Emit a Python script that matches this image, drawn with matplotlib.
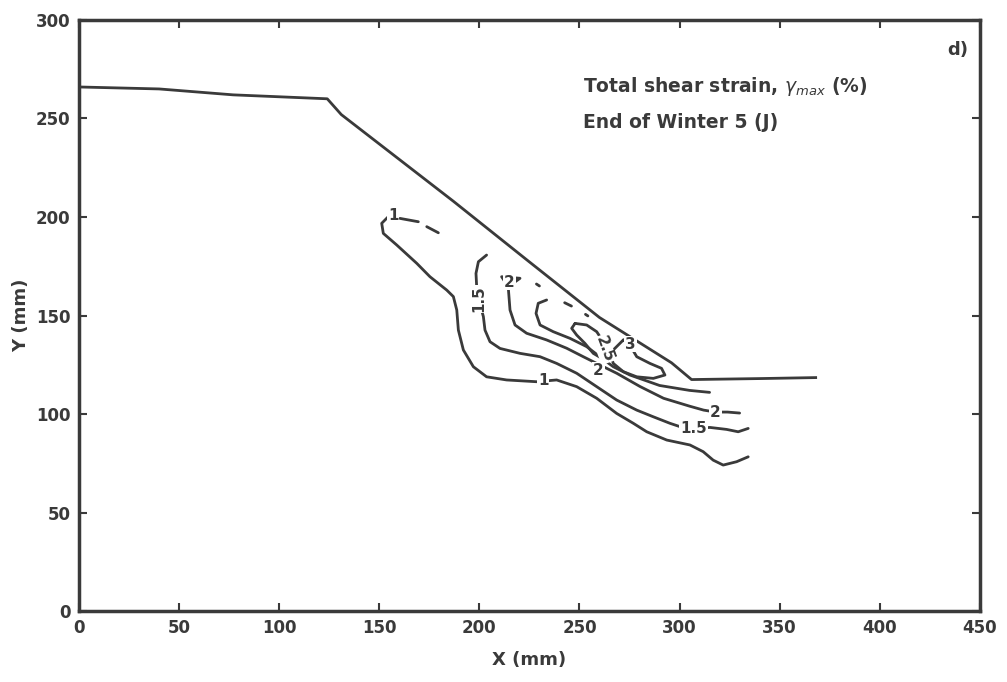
import numpy as np
import matplotlib.pyplot as plt

plt.rcParams['font.family'] = ['DejaVu Sans']
plt.rcParams['mathtext.fontset'] = 'dejavusans'

# ground surface of the slope (mm)
surface_x = [0, 40, 77, 124, 131, 187, 224, 260, 296, 306, 340, 368]
surface_y = [266, 265, 262, 260, 252, 208, 178, 149, 126, 117.5, 118, 118.5]

# contour 1 %
c1_x = [155.3, 151.2, 152, 158.7, 168.7, 175.3, 183.7, 187, 188.7, 189.5, 192, 197, 203.6,
        213.6, 228.6, 238.6, 248.6, 258.6, 268.6, 276.9, 283.6, 293.6, 305.2, 311.8, 316.8,
        321.8, 328.5, 334.3]
c1_y = [201, 196.8, 191.7, 185.8, 176.5, 169.7, 162.9, 159.6, 152.8, 142.6, 132.5, 124, 118.9,
        117.3, 116.4, 117.3, 113.9, 108, 100.3, 95.3, 91, 86.8, 84.3, 80.9, 76.6,
        74.1, 75.8, 78.3]
c1_bits = [([160.3, 169.5], [199.3, 197.6]), ([173.7, 179.5], [195.1, 192])]

# contour 1.5 %
c15_x = [203.6, 199.5, 198.3, 198.6, 199.5, 201.1, 202, 202.8, 205.3, 210.3, 220.3, 230.3,
         238.6, 248.6, 258.6, 268.6, 278.6, 286.9, 295.2, 300.2, 306.9, 315.2, 323.5, 329.3, 334.3]
c15_y = [180.7, 177.3, 171.4, 165.5, 158.7, 152.8, 149.4, 142.6, 136.7, 133.3, 130.8, 129.1,
         125.7, 120.7, 113.9, 107.1, 102, 98.6, 95.3, 93.6, 92.7, 93.2, 92.2, 91, 92.7]

# contour 2 %
c2_x = [214.4, 211.1, 220.3, 214.4, 215.3, 217.8, 223.6, 233.6, 243.6, 251.9, 258.6, 268.6,
        280.2, 292, 305, 312, 318, 324, 330]
c2_y = [164.6, 169.7, 168.9, 164.6, 152.8, 145.2, 141, 137.6, 133.4, 129.1, 125.7, 120.7,
        114, 108, 104, 102, 101, 101, 100.5]

# contour 2.5 %
c25_x = [233.6, 229.4, 228.3, 230.3, 236.9, 245.3, 253.6, 260.2, 266.9, 275.2, 290, 305, 315]
c25_y = [157.9, 156.2, 151.1, 145.2, 141.8, 138.4, 134.2, 129.1, 124, 119.8, 114.5, 112, 111]
c25_bits = [([228.5, 230], [166, 165]), ([242.6, 246], [156.5, 154.8]),
            ([253, 254.2], [150.6, 149.8])]

# contour 3 % (two closed loops)
c3a_x = [247.8, 253.6, 258.6, 261.9, 263.6, 261.1, 256.9, 252.7, 248.6, 246.1, 247.8]
c3a_y = [146, 145.2, 141.8, 136.7, 131.6, 128.3, 130.8, 135.9, 140.1, 143.5, 146]
c3b_x = [271.9, 275.2, 278.6, 285.2, 291, 292.7, 286.9, 278.6, 271.9, 266.9, 265.2, 271.9]
c3b_y = [137.6, 135, 129.1, 125.7, 123.2, 119.8, 118.1, 118.9, 121.5, 125.7, 130.8, 137.6]

# contour labels: text, x, y, rotation
labels = [('1', 157, 201, 0), ('1', 232, 117, 0), ('1.5', 199.5, 158.5, 90),
          ('1.5', 307, 92.5, 0), ('2', 318, 101, 0), ('2', 215, 167, 0),
          ('3', 275.5, 135.5, 0), ('2.5', 262.5, 133, -70), ('2', 259.5, 122, 0)]

col = '#3a3a3a'
lw = 2.0

fig = plt.figure(figsize=(10.07, 6.82), dpi=100)
ax = fig.add_axes([0.0785, 0.104, 0.8945, 0.8667])

ax.plot(surface_x, surface_y, color=col, lw=lw)
for xs, ys in [(c1_x, c1_y), (c15_x, c15_y), (c2_x, c2_y), (c25_x, c25_y),
               (c3a_x, c3a_y), (c3b_x, c3b_y)] + c1_bits + c25_bits:
    ax.plot(xs, ys, color=col, lw=lw, solid_capstyle='round', solid_joinstyle='round')

for t, x, y, r in labels:
    ax.text(x, y, t, fontsize=11, fontweight='bold', color=col, rotation=r,
            ha='center', va='center',
            bbox=dict(boxstyle='square,pad=0.05', fc='white', ec='none'))

ax.text(444, 285, 'd)', fontsize=13, fontweight='bold', color=col, ha='right', va='center')
ax.text(252, 266, r'Total shear strain, $\gamma_{max}$ (%)', fontsize=13.5, fontweight='bold',
        color=col, va='center')
ax.text(252, 248, 'End of Winter 5 (J)', fontsize=13.5, fontweight='bold', color=col, va='center')

ax.set_xlim(0, 450)
ax.set_ylim(0, 300)
ax.set_xticks(np.arange(0, 451, 50))
ax.set_yticks(np.arange(0, 301, 50))
ax.tick_params(direction='in', length=6, width=1.5, top=True, right=True, colors=col,
               labelsize=12, pad=6)
for lab in ax.get_xticklabels() + ax.get_yticklabels():
    lab.set_fontweight('bold')
for s in ax.spines.values():
    s.set_linewidth(2.5)
    s.set_color(col)

ax.set_xlabel('X (mm)', fontsize=13, fontweight='bold', color=col, labelpad=10)
ax.set_ylabel('Y (mm)', fontsize=13, fontweight='bold', color=col, labelpad=4)

fig.savefig('out.png', dpi=100)
